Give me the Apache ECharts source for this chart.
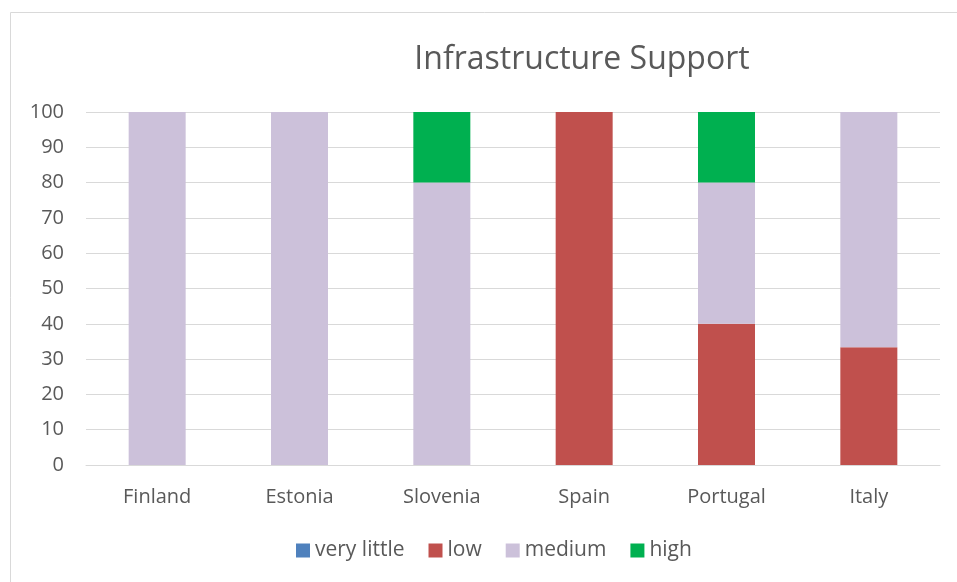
<!DOCTYPE html>
<html>
<head>
<meta charset="utf-8">
<script src="https://cdn.jsdelivr.net/npm/echarts@6/dist/echarts.min.js"></script>
<style>
  html, body { margin: 0; padding: 0; background: #fff; }
  #chart { width: 957px; height: 582px; }
</style>
</head>
<body>
<div id="chart"></div>
<script>
// Share of responses per country, in percent
const countries = ['Finland', 'Estonia', 'Slovenia', 'Spain', 'Portugal', 'Italy'];
const veryLittle = [0, 0, 0, 0, 0, 0];
const low = [0, 0, 0, 100, 40, 33.33];
const medium = [100, 100, 80, 0, 40, 66.67];
const high = [0, 0, 20, 0, 20, 0];
const yTicks = { min: 0, max: 100, step: 10 };

const FONT = 'Open Sans';
const TEXT = '#595959';

const chart = echarts.init(document.getElementById('chart'));

function bar(name, data, color) {
  return {
    name, type: 'bar', stack: 'total', data,
    barWidth: 57,
    itemStyle: { color },
    emphasis: { disabled: true }
  };
}

chart.setOption({
  animation: false,
  graphic: [{
    type: 'rect',
    shape: { x: 10.5, y: 12.5, width: 960, height: 600 },
    style: { fill: 'none', stroke: '#D9D9D9', lineWidth: 1 },
    silent: true
  }],
  title: {
    text: 'Infrastructure Support',
    left: 577, top: 39, textAlign: 'center',
    textStyle: { fontFamily: FONT, fontSize: 32, fontWeight: 'normal', color: TEXT }
  },
  legend: {
    bottom: 16, left: 291,
    itemWidth: 14, itemHeight: 14, itemGap: 24,
    icon: 'rect',
    textStyle: { fontFamily: FONT, fontSize: 21, color: TEXT },
    data: ['very little', 'low', 'medium', 'high']
  },
  grid: { left: 86, right: 17, top: 112, bottom: 117 },
  xAxis: {
    type: 'category', data: countries,
    axisLine: { lineStyle: { color: '#D9D9D9' } },
    axisTick: { show: false },
    axisLabel: { fontFamily: FONT, fontSize: 20, color: TEXT, margin: 22 }
  },
  yAxis: {
    type: 'value', min: yTicks.min, max: yTicks.max, interval: yTicks.step,
    axisLine: { show: false }, axisTick: { show: false },
    splitLine: { lineStyle: { color: '#D9D9D9', width: 1 } },
    axisLabel: { fontFamily: FONT, fontSize: 20, color: TEXT, margin: 22 }
  },
  series: [
    bar('very little', veryLittle, '#4F81BD'),
    bar('low', low, '#C0504D'),
    bar('medium', medium, '#CCC1DA'),
    bar('high', high, '#00B050')
  ]
});
</script>
</body>
</html>
